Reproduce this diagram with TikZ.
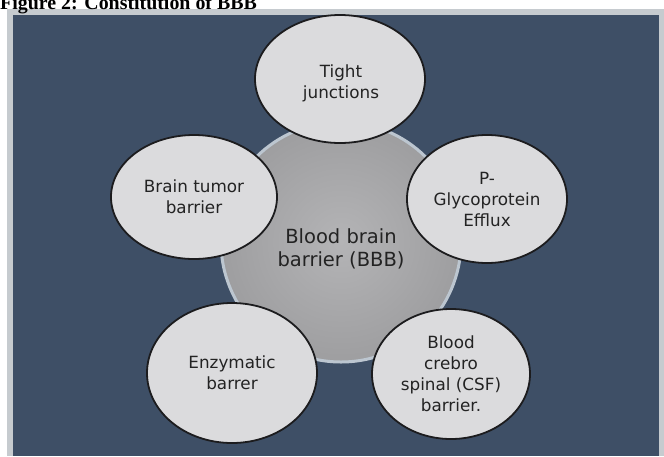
\documentclass[tikz,border=0pt]{standalone}
\usepackage{fontspec}
\setmainfont{DejaVu Sans}
\newfontfamily\titlefont{Liberation Serif}
\usetikzlibrary{shapes.geometric}
\definecolor{framegray}{RGB}{198,203,207}
\definecolor{panelblue}{RGB}{62,79,102}
\definecolor{halo}{RGB}{188,198,208}
\definecolor{discin}{RGB}{180,180,182}
\definecolor{discout}{RGB}{158,158,160}
\definecolor{ovalfill}{RGB}{219,219,221}
\definecolor{ovalline}{RGB}{28,28,30}
\definecolor{txt}{RGB}{35,35,35}
\begin{document}
\begin{tikzpicture}[x=1pt,y=-1pt,
  oval/.style={ellipse, draw=ovalline, line width=1.8pt, fill=ovalfill, inner sep=0pt,
    text=txt, align=center, font=\fontsize{16.8}{21}\selectfont},
  ovaltext/.style={text=txt, align=center, inner sep=0pt, font=\fontsize{16.8}{21}\selectfont},
  disc/.style={circle, draw=halo, line width=3pt, inner sep=0pt, minimum size=240pt,
    inner color=discin, outer color=discout},
  centertext/.style={text=txt, align=center, inner sep=0pt, font=\fontsize{19.5}{23}\selectfont}
]
\useasboundingbox (0,0) rectangle (664,456);
\clip (0,0) rectangle (664,456);
\fill[framegray] (7,9) rectangle (664,456);
\fill[panelblue] (13,15) rectangle (659,456);
\node[anchor=base west, inner sep=0pt, font=\titlefont\bfseries\fontsize{19.9}{24}\selectfont] (title) at (0,9.5) {Figure 2: Constitution of BBB};

\node[disc] (bbb) at (341,242) {};
\node[centertext] (bbblabel) at (341,249) {Blood brain\\barrier (BBB)};

\node[oval, minimum width=170pt, minimum height=128pt] (tight) at (340,79) {};
\node[ovaltext] (tightlabel) at (341,83) {Tight\\junctions};
\node[oval, minimum width=166pt, minimum height=124pt] (tumor) at (194,197) {Brain tumor\\barrier};
\node[oval, minimum width=160pt, minimum height=128pt] (pgp) at (487,199) {P-\\Glycoprotein\\Efflux};
\node[oval, minimum width=170pt, minimum height=140pt] (enz) at (232,373) {Enzymatic\\barrer};
\node[oval, minimum width=158pt, minimum height=130pt] (csf) at (451,374) {Blood\\crebro\\spinal (CSF)\\barrier.};
\end{tikzpicture}
\end{document}
